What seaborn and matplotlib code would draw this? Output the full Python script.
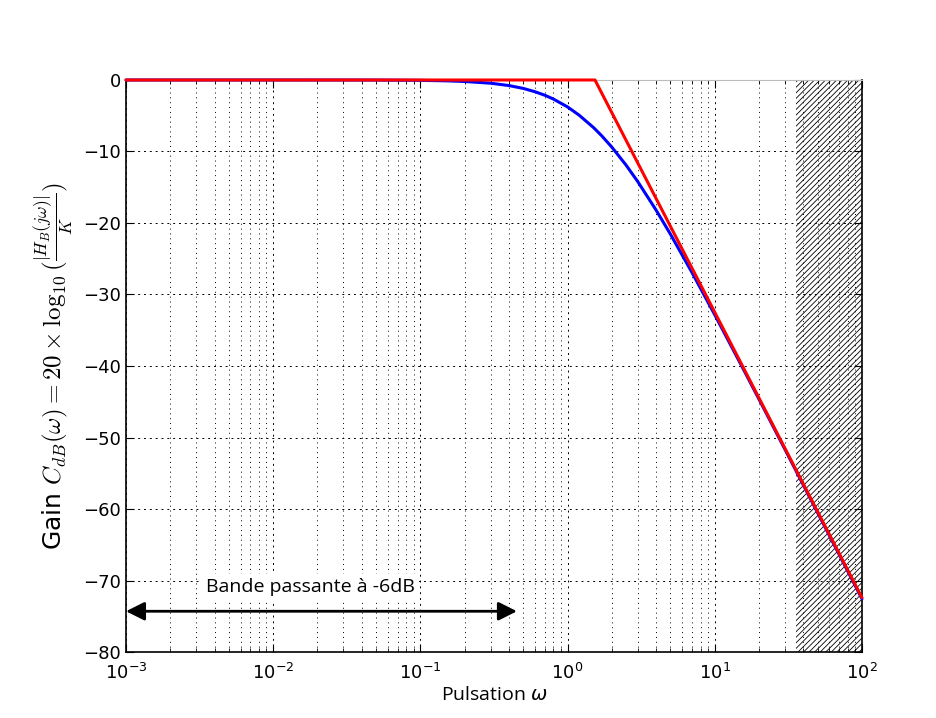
import numpy as np
import pandas as pd
import seaborn as sns
import matplotlib.pyplot as plt

omega = [0.001, 0.01, 0.05, 0.1, 0.15, 0.2, 0.3, 0.4, 0.5, 0.6, 0.7, 0.8, 1.0,
         1.2, 1.5, 1.7, 2.0, 2.5, 3.0, 4.0, 5.0, 7.0, 10.0, 15.0, 20.0, 30.0,
         50.0, 100.0]
gain = [0.0, 0.0, -0.01, -0.05, -0.12, -0.21, -0.45, -0.78, -1.18, -1.64,
        -2.13, -2.66, -3.77, -4.93, -6.65, -7.77, -9.40, -11.92, -14.22,
        -18.22, -21.57, -26.92, -32.84, -39.73, -44.67, -51.67, -60.53, -72.56]

# asymptotic diagram
asym_omega = [0.001, 1.535, 100.0]
asym_gain = [0.0, 0.0, -72.4]

# hatched zone and bandwidth arrow
hatch_start, hatch_end = 35.6, 100.0
band_start, band_end, band_level = 0.001, 0.453, -74.3
band_text = "Bande passante à -6dB"
text_omega, text_level = 0.0178, -70.9

df = pd.DataFrame({"omega": omega, "gain": gain})
df_asym = pd.DataFrame({"omega": asym_omega, "gain": asym_gain})

sns.set_style("ticks")
plt.rcParams["font.family"] = ["DejaVu Sans"]
plt.rcParams["hatch.linewidth"] = 0.6
plt.rcParams["text.color"] = "k"
plt.rcParams["axes.labelcolor"] = "k"
plt.rcParams["xtick.color"] = "k"
plt.rcParams["ytick.color"] = "k"

fig = plt.figure(figsize=(9.36, 7.18), dpi=100)
ax = fig.add_axes([0.1346, 0.0919, 0.7863, 0.7967])

ax.axvspan(hatch_start, hatch_end, facecolor="none", edgecolor="k",
           hatch="//////", lw=0)

sns.lineplot(data=df, x="omega", y="gain", ax=ax, color="b", lw=2.2,
             estimator=None, sort=False, clip_on=False, zorder=3)
sns.lineplot(data=df_asym, x="omega", y="gain", ax=ax, color="r", lw=2.2,
             estimator=None, sort=False, clip_on=False, zorder=4)

ax.set_xscale("log")
ax.set_xlim(1e-3, 1e2)
ax.set_ylim(-80, 0)
ax.set_yticks(np.arange(-80, 1, 10))

ax.grid(True, which="major", axis="both", color="k", ls=(0, (2, 4)), lw=0.7)
ax.grid(True, which="minor", axis="x", color="k", ls=(0, (1, 4)), lw=0.7)

ax.tick_params(which="both", direction="in", top=True, right=True,
               labelsize=13)
ax.tick_params(which="major", length=6)
ax.tick_params(which="minor", length=3)
ax.tick_params(axis="x", which="major", pad=8)
for s in ["left", "right", "bottom"]:
    ax.spines[s].set_color("k")
    ax.spines[s].set_linewidth(1.2)
ax.spines["top"].set_color("#bbbbbb")

ax.annotate("", xy=(band_end, band_level), xytext=(band_start, band_level),
            arrowprops=dict(arrowstyle="<|-|>", color="k", lw=2,
                            mutation_scale=28, shrinkA=0, shrinkB=0))
ax.text(text_omega, text_level, band_text, ha="center", va="center",
        fontsize=14, family=["Open Sans", "DejaVu Sans"],
        bbox=dict(facecolor="white", edgecolor="none", pad=3))

ax.set_xlabel(r"Pulsation $\omega$", fontsize=14,
              family=["Open Sans", "DejaVu Sans"], labelpad=2)
ax.set_ylabel(r"Gain $C_{dB}(\omega)=20\times\log_{10}(\frac{|H_B(j\omega)|}{K})$",
              fontsize=18, math_fontfamily="cm", labelpad=6)

fig.savefig("out.png", dpi=100)
